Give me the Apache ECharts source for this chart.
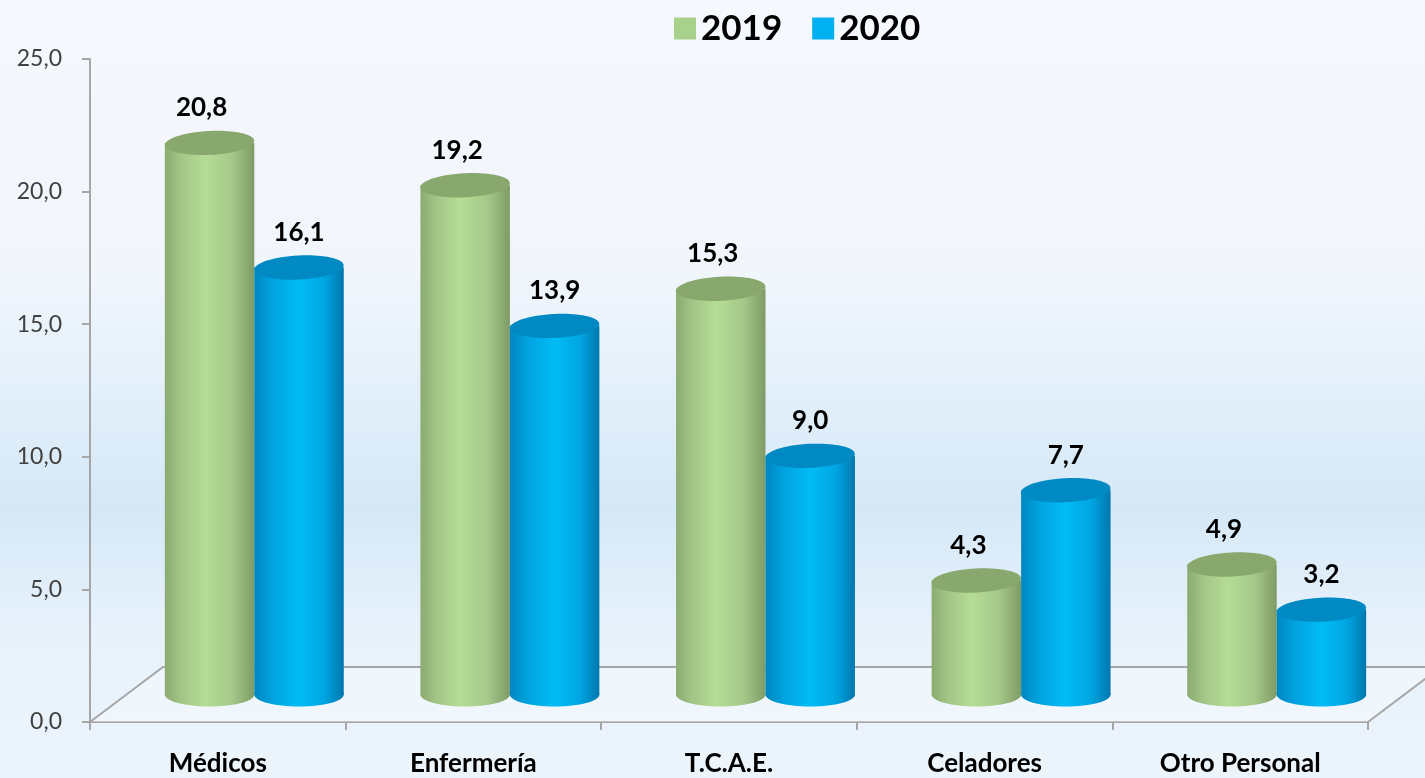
<!DOCTYPE html>
<html>
<head>
<meta charset="utf-8">
<script src="https://cdn.jsdelivr.net/npm/echarts@6/dist/echarts.min.js"></script>
<style>
  html, body { margin: 0; padding: 0; }
  #chart { width: 1425px; height: 778px; }
</style>
</head>
<body>
<div id="chart"></div>
<script>
const categories = ['Médicos', 'Enfermería', 'T.C.A.E.', 'Celadores', 'Otro Personal'];
const seriesNames = ['2019', '2020'];
const values2019 = [20.8, 19.2, 15.3, 4.3, 4.9];
const values2020 = [16.1, 13.9, 9.0, 7.7, 3.2];
const yMin = 0, yMax = 25, yInterval = 5;

const FONT = 'Lato, "Noto Sans", sans-serif';
const DEPTH_X = 73, DEPTH_Y = -55;
const BAR_FRAC = 0.35;
const fmt = v => v.toFixed(1).replace('.', ',');

const styles = {
  '2019': {
    legend: '#a9d18e',
    top: '#89a86e',
    body: [[0, '#8bab70'], [0.18, '#a3c587'], [0.45, '#b5dc95'], [0.75, '#a6c98a'], [1, '#7e9b65']],
    offset: -0.175, labelDx: -8
  },
  '2020': {
    legend: '#00b0f0',
    top: '#0089c2',
    body: [[0, '#0086bf'], [0.2, '#00a3df'], [0.5, '#00bcf6'], [0.78, '#00a6e2'], [1, '#0077ae']],
    offset: 0.175, labelDx: 0
  }
};

function cylinderRenderer(name) {
  const st = styles[name];
  return function (params, api) {
    const ci = api.value(0), v = api.value(1);
    const top = api.coord([ci, v]);
    const base = api.coord([ci, 0]);
    const bw = api.size([1, 0])[0];
    const cx = top[0] + DEPTH_X / 2 + st.offset * bw;
    const rx = BAR_FRAC * bw / 2;
    const ry = 12;
    const yTop = top[1] + DEPTH_Y / 2;
    const yBase = base[1] + DEPTH_Y / 2;
    const grad = new echarts.graphic.LinearGradient(0, 0, 1, 0,
      st.body.map(s => ({ offset: s[0], color: s[1] })));
    return {
      type: 'group',
      children: [
        { type: 'ellipse', shape: { cx: cx, cy: yBase, rx: rx, ry: ry }, style: { fill: grad } },
        { type: 'rect', shape: { x: cx - rx, y: yTop, width: 2 * rx, height: yBase - yTop }, style: { fill: grad } },
        { type: 'ellipse', shape: { cx: cx, cy: yTop, rx: rx, ry: ry },
          rotation: 0.05, originX: cx, originY: yTop,
          style: { fill: st.top } },
        { type: 'text', x: cx + st.labelDx, y: yTop - 22,
          style: { text: fmt(v), font: 'bold 26px ' + FONT, fill: '#000',
                   align: 'center', verticalAlign: 'bottom' } }
      ]
    };
  };
}

function floorRenderer(params, api) {
  const cs = params.coordSys;
  const x0 = cs.x, x1 = cs.x + cs.width, y0 = cs.y + cs.height;
  return {
    type: 'group',
    children: [
      { type: 'polygon',
        shape: { points: [[x0, y0], [x1, y0], [x1 + DEPTH_X, y0 + DEPTH_Y], [x0 + DEPTH_X, y0 + DEPTH_Y]] },
        style: { fill: 'rgba(255,255,255,0.3)' } },
      { type: 'polyline',
        shape: { points: [[x0, y0], [x0 + DEPTH_X, y0 + DEPTH_Y], [x1 + DEPTH_X, y0 + DEPTH_Y], [x1, y0]] },
        style: { stroke: '#a6a6a6', lineWidth: 2, fill: null } }
    ]
  };
}

const chart = echarts.init(document.getElementById('chart'));
chart.setOption({
  animation: false,
  backgroundColor: new echarts.graphic.LinearGradient(0, 0, 0, 1, [
    { offset: 0, color: '#f5f8fd' },
    { offset: 0.35, color: '#f1f6fc' },
    { offset: 0.55, color: '#deedf9' },
    { offset: 0.65, color: '#d5e8f7' },
    { offset: 0.8, color: '#e6f1fb' },
    { offset: 1, color: '#edf5fc' }
  ]),
  legend: {
    data: seriesNames,
    top: 6, left: 669,
    itemWidth: 22, itemHeight: 22, itemGap: 30,
    icon: 'rect',
    textStyle: { fontFamily: FONT, fontWeight: 'bold', fontSize: 35, color: '#000' }
  },
  grid: { left: 90, right: 57, top: 59, bottom: 56 },
  xAxis: {
    type: 'category',
    data: categories,
    axisLine: { lineStyle: { color: '#a6a6a6', width: 2 } },
    axisTick: { show: true, length: 8, lineStyle: { color: '#a6a6a6', width: 2 } },
    axisLabel: { margin: 29, fontFamily: FONT, fontWeight: 'bold', fontSize: 26, color: '#000' },
    splitLine: { show: false }
  },
  yAxis: {
    type: 'value',
    min: yMin, max: yMax, interval: yInterval,
    axisLine: { show: true, lineStyle: { color: '#a6a6a6', width: 2 } },
    axisTick: { show: true, length: 8, lineStyle: { color: '#a6a6a6', width: 2 } },
    axisLabel: { margin: 28, fontFamily: FONT, fontSize: 23, color: '#404040', formatter: v => fmt(v) },
    splitLine: { show: false }
  },
  series: [
    { type: 'custom', name: 'floor', renderItem: floorRenderer, data: [[0, 0]], z: 1, silent: true },
    { type: 'custom', name: '2019', renderItem: cylinderRenderer('2019'),
      itemStyle: { color: styles['2019'].legend },
      encode: { x: 0, y: 1 }, data: values2019.map((v, i) => [i, v]), z: 3 },
    { type: 'custom', name: '2020', renderItem: cylinderRenderer('2020'),
      itemStyle: { color: styles['2020'].legend },
      encode: { x: 0, y: 1 }, data: values2020.map((v, i) => [i, v]), z: 4 }
  ]
});
</script>
</body>
</html>
